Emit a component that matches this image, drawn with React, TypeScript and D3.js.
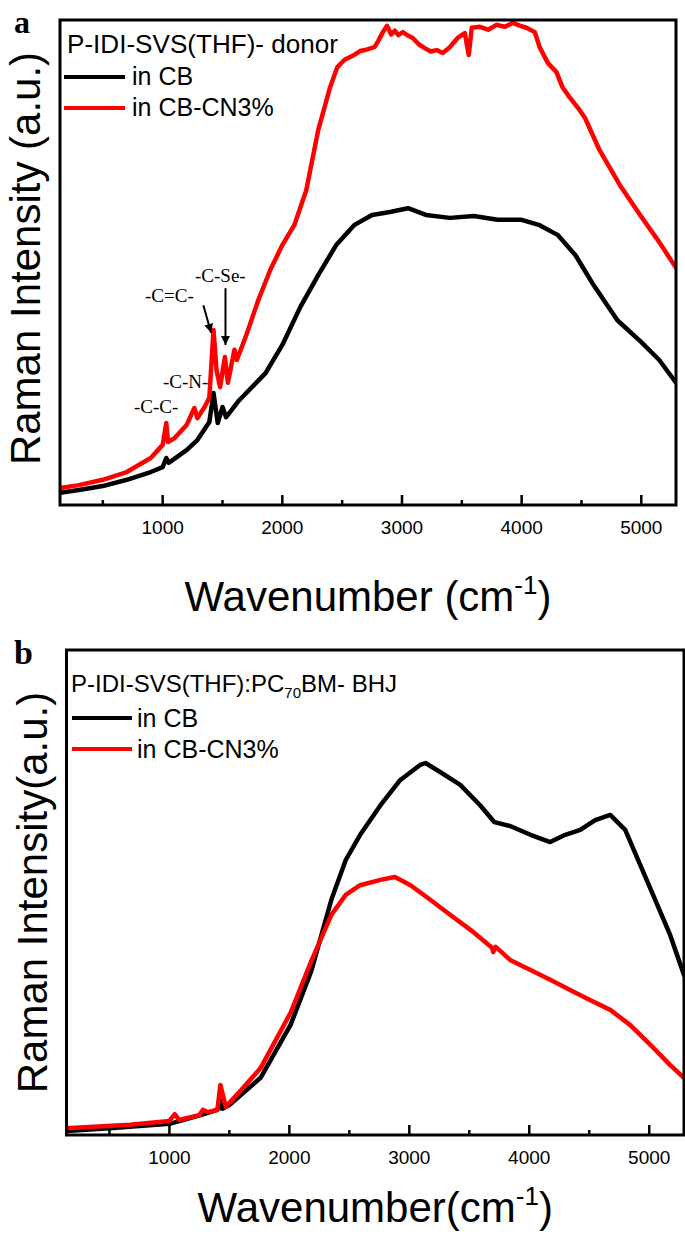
import React from "react";
import * as d3 from "d3";

// ---------- data ----------
const xDomain: [number, number] = [142, 5290];
const majorTicks = [1000, 2000, 3000, 4000, 5000];
const minorTicks = [500, 1500, 2500, 3500, 4500];

// panel a (arbitrary intensity units 0-100)
const aRedWave = [142, 300, 500, 700, 900, 1000, 1030, 1045, 1100, 1200, 1265, 1290, 1350, 1390, 1425, 1450, 1480, 1520, 1545, 1600, 1620, 1700, 1800, 1900, 2000, 2100, 2200, 2300, 2400, 2460, 2520, 2600, 2650, 2690, 2770, 2800, 2840, 2875, 2910, 2940, 2970, 3007, 3050, 3090, 3140, 3190, 3240, 3290, 3340, 3400, 3465, 3525, 3558, 3583, 3650, 3720, 3790, 3860, 3925, 3990, 4040, 4110, 4150, 4220, 4290, 4340, 4400, 4485, 4530, 4650, 4820, 4990, 5150, 5290];
const aRedVal = [3.5, 4.1, 5.2, 6.8, 9.7, 12.4, 16.9, 13.0, 13.8, 16.5, 20.0, 17.9, 20.2, 22.1, 36.1, 27.8, 24.3, 30.5, 25.2, 32.0, 29.9, 35.1, 42.3, 48.5, 53.6, 57.7, 64.9, 77.3, 86.2, 90.3, 91.8, 92.8, 93.6, 93.8, 94.4, 95.6, 97.5, 98.8, 97.0, 97.8, 96.9, 97.5, 96.8, 96.3, 95.0, 94.2, 93.5, 93.8, 93.2, 94.4, 96.3, 97.3, 92.8, 98.4, 98.6, 98.0, 99.0, 98.6, 99.4, 98.8, 98.4, 97.5, 94.4, 91.1, 89.3, 86.2, 84.1, 81.4, 79.8, 73.2, 66.0, 59.8, 54.2, 48.9];
const aBlackWave = [142, 300, 500, 700, 900, 1000, 1030, 1050, 1200, 1290, 1390, 1425, 1460, 1500, 1530, 1640, 1860, 2000, 2150, 2300, 2450, 2600, 2750, 2900, 3050, 3200, 3400, 3600, 3800, 4000, 4150, 4300, 4450, 4600, 4800, 5000, 5150, 5290];
const aBlackVal = [2.5, 3.1, 3.9, 5.2, 6.8, 7.8, 9.7, 8.7, 11.3, 13.4, 17.1, 23.1, 16.9, 20.2, 18.1, 21.6, 27.2, 33.0, 40.8, 47.4, 53.6, 57.7, 59.8, 60.4, 61.2, 59.8, 59.2, 59.6, 58.8, 58.8, 57.7, 55.7, 51.5, 45.4, 38.1, 33.6, 29.9, 25.2];

// panel b
const bBlackWave = [142, 500, 1000, 1260, 1400, 1420, 1440, 1500, 1760, 2010, 2180, 2350, 2470, 2590, 2760, 2925, 3090, 3135, 3260, 3425, 3590, 3710, 3840, 4010, 4175, 4300, 4425, 4550, 4675, 4800, 4925, 5050, 5175, 5290];
const bBlackVal = [0.8, 1.4, 2.3, 4.1, 5.2, 7.2, 5.4, 6.2, 11.8, 22.7, 33.6, 48.5, 56.7, 61.9, 68.0, 73.2, 76.3, 76.7, 74.8, 72.2, 68.0, 64.5, 63.7, 61.9, 60.4, 61.9, 62.9, 64.9, 66.0, 62.9, 55.7, 48.5, 41.2, 33.0];
const bRedWave = [142, 670, 1000, 1045, 1080, 1250, 1280, 1320, 1400, 1425, 1470, 1600, 1760, 2010, 2180, 2350, 2470, 2590, 2760, 2880, 3010, 3175, 3340, 3510, 3690, 3700, 3720, 3840, 4010, 4175, 4340, 4510, 4675, 4840, 5010, 5175, 5290];
const bRedVal = [1.4, 2.1, 2.9, 4.3, 3.1, 4.1, 5.2, 4.7, 5.2, 10.3, 5.8, 9.3, 13.8, 25.2, 35.7, 45.4, 49.5, 51.5, 52.6, 53.2, 51.5, 48.5, 45.4, 42.3, 38.6, 37.7, 38.8, 36.1, 34.0, 32.0, 29.9, 27.8, 25.8, 22.7, 18.6, 14.4, 11.8];

const legendA = ["in CB", "in CB-CN3%"];
const legendB = ["in CB", "in CB-CN3%"];
const seriesColors = ["#000000", "#ff0000"];

const SANS = "'Liberation Sans', Arial, sans-serif";
const SERIF = "'Liberation Serif', 'Times New Roman', serif";

type Box = { left: number; right: number; top: number; bottom: number };

function zip(w: number[], v: number[]) {
  return w.map((x, i) => [x, v[i]] as [number, number]);
}

function Panel({ box, series, id, yTitle, xTitleSpace, xTitleOffset, yTitleShift }: { box: Box; series: { data: [number, number][]; color: string }[]; id: string; yTitle: string; xTitleSpace: boolean; xTitleOffset: number; yTitleShift: number }) {
  const x = d3.scaleLinear().domain(xDomain).range([box.left, box.right]);
  const y = d3.scaleLinear().domain([0, 100]).range([box.bottom, box.top]);
  const line = d3.line<[number, number]>().x((d) => x(d[0])).y((d) => y(d[1]));
  const cx = (box.left + box.right) / 2;
  const cy = (box.top + box.bottom) / 2;
  return (
    <g>
      <defs>
        <clipPath id={id}>
          <rect x={box.left} y={box.top} width={box.right - box.left} height={box.bottom - box.top} />
        </clipPath>
      </defs>
      <g clipPath={`url(#${id})`}>
        {series.map((s, i) => (
          <path key={i} d={line(s.data) || ""} fill="none" stroke={s.color} strokeWidth={4.5} strokeLinejoin="round" strokeLinecap="round" />
        ))}
      </g>
      <rect x={box.left} y={box.top} width={box.right - box.left} height={box.bottom - box.top} fill="none" stroke="#000" strokeWidth={3} />
      {majorTicks.map((t) => (
        <g key={"M" + t}>
          <line x1={x(t)} x2={x(t)} y1={box.bottom} y2={box.bottom - 10} stroke="#000" strokeWidth={2.5} />
          <text x={x(t)} y={box.bottom + 29} textAnchor="middle" fontFamily={SANS} fontSize={19}>{t}</text>
        </g>
      ))}
      {minorTicks.map((t) => (
        <line key={"m" + t} x1={x(t)} x2={x(t)} y1={box.bottom} y2={box.bottom - 5} stroke="#000" strokeWidth={2.5} />
      ))}
      <text x={cx} y={box.bottom + xTitleOffset} textAnchor="middle" fontFamily={SANS} fontSize={42}>
        {xTitleSpace ? "Wavenumber (cm" : "Wavenumber(cm"}
        <tspan fontSize={26} dy={-17}>-1</tspan>
        <tspan dy={17}>)</tspan>
      </text>
      <text transform={`translate(${box.left - 20},${cy + yTitleShift}) rotate(-90)`} textAnchor="middle" fontFamily={SANS} fontSize={42}>
        {yTitle}
      </text>
    </g>
  );
}

export default function App() {
  const boxA: Box = { left: 60, right: 676, top: 20, bottom: 505 };
  const boxB: Box = { left: 66.5, right: 684, top: 650, bottom: 1135 };
  const xA = d3.scaleLinear().domain(xDomain).range([boxA.left, boxA.right]);
  const yA = d3.scaleLinear().domain([0, 100]).range([boxA.bottom, boxA.top]);

  return (
    <svg width={685} height={1241} style={{ position: "absolute", left: 0, top: 0, background: "#fff" }}>
      <defs>
        <marker id="arrowHead" viewBox="0 0 10 10" refX={10} refY={5} markerWidth={4.5} markerHeight={4.5} markerUnits="strokeWidth" orient="auto">
          <path d="M0,0 L10,5 L0,10 z" fill="#000" />
        </marker>
      </defs>
      <rect x={0} y={0} width={685} height={1241} fill="#fff" />

      {/* Panel a */}
      <Panel box={boxA} id="clipA" yTitle="Raman Intensity (a.u.)" xTitleSpace={true} xTitleOffset={106} yTitleShift={-4}
        series={[
          { data: zip(aBlackWave, aBlackVal), color: seriesColors[0] },
          { data: zip(aRedWave, aRedVal), color: seriesColors[1] },
        ]} />
      <text x={14} y={33} fontFamily={SERIF} fontWeight="bold" fontSize={32}>a</text>
      <text x={67} y={53} fontFamily={SANS} fontSize={25} textLength={271} lengthAdjust="spacingAndGlyphs">P-IDI-SVS(THF)- donor</text>
      {legendA.map((l, i) => (
        <g key={l}>
          <line x1={64} x2={125} y1={77 + i * 31} y2={77 + i * 31} stroke={seriesColors[i]} strokeWidth={4} />
          <text x={132} y={85 + i * 31} fontFamily={SANS} fontSize={25}>{l}</text>
        </g>
      ))}
      {/* peak annotations */}
      <text x={145} y={302} fontFamily={SERIF} fontSize={19}>-C=C-</text>
      <text x={195} y={282} fontFamily={SERIF} fontSize={19}>-C-Se-</text>
      <text x={163} y={388} fontFamily={SERIF} fontSize={19}>-C-N-</text>
      <text x={134} y={413} fontFamily={SERIF} fontSize={19}>-C-C-</text>
      <line x1={xA(1340)} y1={yA(41.2)} x2={xA(1405)} y2={yA(35.5)} stroke="#000" strokeWidth={2} markerEnd="url(#arrowHead)" />
      <line x1={xA(1525)} y1={yA(44.7)} x2={xA(1525)} y2={yA(33.0)} stroke="#000" strokeWidth={2} markerEnd="url(#arrowHead)" />

      {/* Panel b */}
      <Panel box={boxB} id="clipB" yTitle="Raman Intensity(a.u.)" xTitleSpace={false} xTitleOffset={87} yTitleShift={0}
        series={[
          { data: zip(bBlackWave, bBlackVal), color: seriesColors[0] },
          { data: zip(bRedWave, bRedVal), color: seriesColors[1] },
        ]} />
      <text x={14} y={664} fontFamily={SERIF} fontWeight="bold" fontSize={34}>b</text>
      <text x={71} y={692} fontFamily={SANS} fontSize={24}>
        P-IDI-SVS(THF):PC<tspan fontSize={15} dy={6}>70</tspan><tspan dy={-6}>BM- BHJ</tspan>
      </text>
      {legendB.map((l, i) => (
        <g key={l}>
          <line x1={72} x2={132} y1={718 + i * 31} y2={718 + i * 31} stroke={seriesColors[i]} strokeWidth={4} />
          <text x={137} y={727 + i * 31} fontFamily={SANS} fontSize={25}>{l}</text>
        </g>
      ))}
    </svg>
  );
}
